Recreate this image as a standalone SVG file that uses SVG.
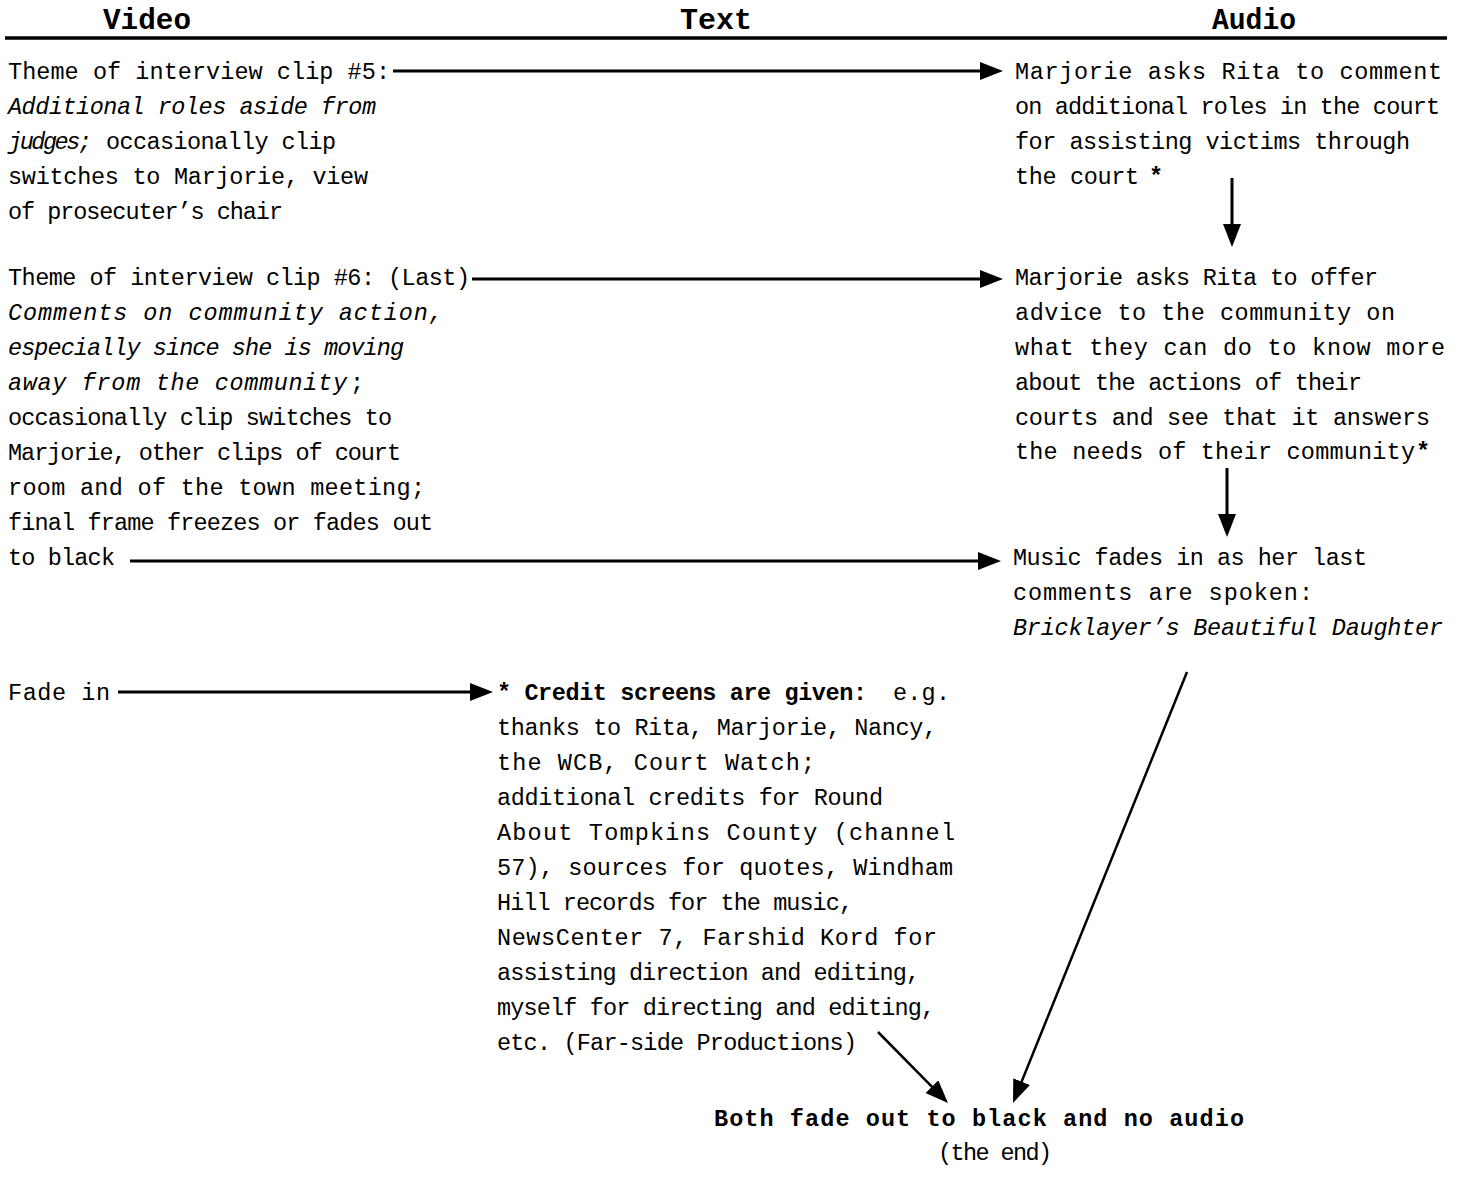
<svg xmlns="http://www.w3.org/2000/svg" width="1467" height="1188" viewBox="0 0 1467 1188">
<style>
text { font-family: "Liberation Mono", "Courier New", monospace; font-size: 23.5px; fill: #000; }
.i { font-style: italic; }
.b { font-weight: bold; }
.h { font-size: 29px; font-weight: bold; text-anchor: middle; }
.c { stroke: #000; stroke-width: 3; fill: none; marker-end: url(#ah); }
.d { stroke: #000; stroke-width: 2.5; fill: none; marker-end: url(#ah); }
</style>
<defs>
<marker id="ah" viewBox="0 0 23 18" refX="15" refY="9" markerWidth="23" markerHeight="18" markerUnits="userSpaceOnUse" orient="auto">
<path d="M0,0 L23,9 L0,18 z" fill="#000"/>
</marker>
</defs>
<rect width="1467" height="1188" fill="#fff"/>
<g id="header">
<text class="h" x="147" y="29" textLength="88" lengthAdjust="spacingAndGlyphs">Video</text>
<text class="h" x="716" y="29" textLength="72" lengthAdjust="spacingAndGlyphs">Text</text>
<text class="h" x="1254" y="29" textLength="84" lengthAdjust="spacingAndGlyphs">Audio</text>
<line x1="5" y1="38" x2="1447" y2="38" stroke="#000" stroke-width="3.5"/>
</g>
<g id="video-clip5">
<text x="8" y="79" textLength="382" lengthAdjust="spacing">Theme of interview clip #5:</text>
<text class="i" x="8" y="114" textLength="368" lengthAdjust="spacing">Additional roles aside from</text>
<text class="i" x="8" y="149" textLength="84" lengthAdjust="spacing">judges;</text>
<text x="106" y="149" textLength="230" lengthAdjust="spacing">occasionally clip</text>
<text x="8" y="184" textLength="360" lengthAdjust="spacing">switches to Marjorie, view</text>
<text x="8" y="219" textLength="275" lengthAdjust="spacing">of prosecuter’s chair</text>
</g>
<g id="video-clip6">
<text x="8" y="285" textLength="462" lengthAdjust="spacing">Theme of interview clip #6: (Last)</text>
<text class="i" x="8" y="320" textLength="435" lengthAdjust="spacing">Comments on community action,</text>
<text class="i" x="8" y="355" textLength="396" lengthAdjust="spacing">especially since she is moving</text>
<text class="i" x="8" y="390" textLength="339" lengthAdjust="spacing">away from the community</text>
<text x="350" y="390">;</text>
<text x="8" y="425" textLength="384" lengthAdjust="spacing">occasionally clip switches to</text>
<text x="8" y="460" textLength="393" lengthAdjust="spacing">Marjorie, other clips of court</text>
<text x="8" y="495" textLength="417" lengthAdjust="spacing">room and of the town meeting;</text>
<text x="8" y="530" textLength="425" lengthAdjust="spacing">final frame freezes or fades out</text>
<text x="8" y="565" textLength="107" lengthAdjust="spacing">to black</text>
</g>
<g id="audio-roles">
<text x="1015" y="79" textLength="427" lengthAdjust="spacing">Marjorie asks Rita to comment</text>
<text x="1015" y="114" textLength="425" lengthAdjust="spacing">on additional roles in the court</text>
<text x="1015" y="149" textLength="395" lengthAdjust="spacing">for assisting victims through</text>
<text x="1015" y="184" textLength="124" lengthAdjust="spacing">the court</text>
<text class="b" x="1149" y="184">*</text>
</g>
<g id="audio-advice">
<text x="1015" y="285" textLength="363" lengthAdjust="spacing">Marjorie asks Rita to offer</text>
<text x="1015" y="320" textLength="380" lengthAdjust="spacing">advice to the community on</text>
<text x="1015" y="355" textLength="430" lengthAdjust="spacing">what they can do to know more</text>
<text x="1015" y="390" textLength="347" lengthAdjust="spacing">about the actions of their</text>
<text x="1015" y="425" textLength="415" lengthAdjust="spacing">courts and see that it answers</text>
<text x="1015" y="459" textLength="400" lengthAdjust="spacing">the needs of their community</text>
<text class="b" x="1416" y="459">*</text>
</g>
<g id="audio-music">
<text x="1013" y="565" textLength="354" lengthAdjust="spacing">Music fades in as her last</text>
<text x="1013" y="600" textLength="300" lengthAdjust="spacing">comments are spoken:</text>
<text class="i" x="1013" y="635" textLength="430" lengthAdjust="spacing">Bricklayer’s Beautiful Daughter</text>
</g>
<g id="video-fadein">
<text x="8" y="700" textLength="102" lengthAdjust="spacing">Fade in</text>
</g>
<g id="text-credits">
<text class="b" x="497" y="700" textLength="370" lengthAdjust="spacing">* Credit screens are given:</text>
<text x="893" y="700" textLength="57" lengthAdjust="spacing">e.g.</text>
<text x="497" y="735" textLength="440" lengthAdjust="spacing">thanks to Rita, Marjorie, Nancy,</text>
<text x="497" y="770" textLength="318" lengthAdjust="spacing">the WCB, Court Watch;</text>
<text x="497" y="805" textLength="386" lengthAdjust="spacing">additional credits for Round</text>
<text x="497" y="840" textLength="458" lengthAdjust="spacing">About Tompkins County (channel</text>
<text x="497" y="875" textLength="456" lengthAdjust="spacing">57), sources for quotes, Windham</text>
<text x="497" y="910" textLength="356" lengthAdjust="spacing">Hill records for the music,</text>
<text x="497" y="945" textLength="440" lengthAdjust="spacing">NewsCenter 7, Farshid Kord for</text>
<text x="497" y="980" textLength="423" lengthAdjust="spacing">assisting direction and editing,</text>
<text x="497" y="1015" textLength="438" lengthAdjust="spacing">myself for directing and editing,</text>
<text x="497" y="1050" textLength="360" lengthAdjust="spacing">etc. (Far-side Productions)</text>
</g>
<g id="end">
<text class="b" x="714" y="1126" textLength="530" lengthAdjust="spacing">Both fade out to black and no audio</text>
<text x="938" y="1160" textLength="114" lengthAdjust="spacing">(the end)</text>
</g>
<g id="connectors">
<line class="c" x1="393" y1="71" x2="995" y2="71"/>
<line class="c" x1="472" y1="279" x2="995" y2="279"/>
<line class="c" x1="130" y1="561" x2="993" y2="561"/>
<line class="c" x1="118" y1="692" x2="485" y2="692"/>
<line class="c" x1="1232" y1="178" x2="1232" y2="239"/>
<line class="c" x1="1227" y1="468" x2="1227" y2="529"/>
<line class="d" x1="1187" y1="672" x2="1016" y2="1095.6"/>
<line class="d" x1="878" y1="1032" x2="942.4" y2="1097.3"/>
</g>
</svg>
